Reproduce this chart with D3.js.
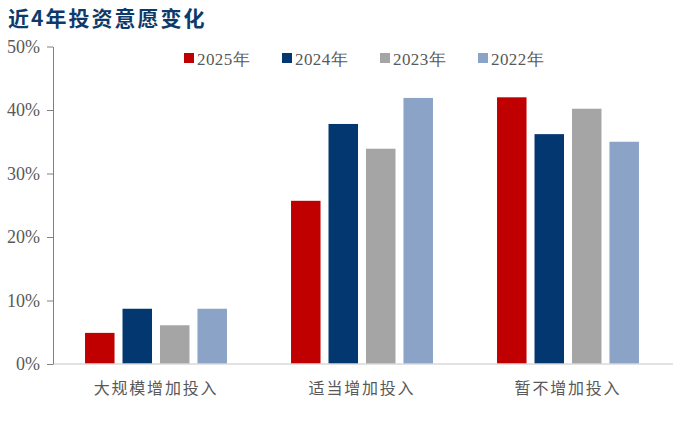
<!DOCTYPE html>
<html><head><meta charset="utf-8">
<script src="https://cdn.jsdelivr.net/npm/d3@7"></script>
<style>
body{margin:0;background:#fff}
.serif{font-family:"Liberation Serif","Times New Roman","DejaVu Serif",serif;}
.cjk{font-family:"Noto Sans CJK SC",sans-serif;}
</style>
</head><body>
<svg id="c" width="697" height="438"></svg>
<script>
const title = "近4年投资意愿变化";
const categories = ["大规模增加投入", "适当增加投入", "暂不增加投入"];
const seriesNames = ["2025年", "2024年", "2023年", "2022年"];
const colors = ["#C00000", "#03376F", "#A5A5A5", "#8AA3C6"];
const s2025 = [4.9, 25.7, 42.0];
const s2024 = [8.7, 37.8, 36.2];
const s2023 = [6.1, 33.9, 40.2];
const s2022 = [8.7, 41.9, 35.0];
const yTicks = [0, 10, 20, 30, 40, 50];

const series = [s2025, s2024, s2023, s2022];
const svg = d3.select("#c");
const mLeft = 53, mRight = 671, mTop = 46.5, mBottom = 364;

const x0 = d3.scaleBand().domain(categories).range([mLeft, mRight]).paddingInner(0.311).paddingOuter(0.1555);
const x1 = d3.scaleBand().domain(seriesNames).range([0, x0.bandwidth()]).paddingInner(0.213);
const y = d3.scaleLinear().domain([0, 50]).range([mBottom, mTop]);

// title
svg.append("text").attr("class", "cjk").attr("x", 8).attr("y", 26).text(title)
  .attr("font-weight", "bold")
  .attr("font-size", 21).attr("fill", "#0E3A6B").attr("letter-spacing", 2);

// bars
categories.forEach((c, ci) => {
  seriesNames.forEach((s, si) => {
    const v = series[si][ci];
    svg.append("rect")
      .attr("x", x0(c) + x1(s)).attr("width", x1.bandwidth())
      .attr("y", y(v)).attr("height", y(0) - y(v))
      .attr("fill", colors[si]);
  });
});

// baseline
svg.append("line").attr("x1", mLeft).attr("x2", 673).attr("y1", mBottom).attr("y2", mBottom)
  .attr("stroke", "#D9D9D9").attr("stroke-width", 1.5);

// y axis
const yAxis = d3.axisLeft(y).tickValues(yTicks).tickFormat(d => d + "%").tickSize(6).tickSizeOuter(0).tickPadding(7);
const ga = svg.append("g").attr("transform", `translate(${mLeft},0)`).call(yAxis);
ga.attr("font-family", null);
ga.select(".domain").attr("stroke", "#808080");
ga.selectAll(".tick line").attr("stroke", "#808080");
ga.selectAll(".tick text").attr("class", "serif").attr("font-size", 18).attr("fill", "#595959");

// x labels
const gx = svg.append("g").attr("transform", `translate(0,${mBottom})`)
  .call(d3.axisBottom(x0).tickSize(0).tickPadding(20));
gx.attr("font-family", null);
gx.select(".domain").remove();
gx.selectAll(".tick text").attr("class", "cjk").attr("font-size", 16)
  .attr("fill", "#595959").attr("letter-spacing", 1.8).attr("dy", "0.6em");

// legend
const lg = svg.append("g");
seriesNames.forEach((s, i) => {
  const lx = 184 + i * 98;
  lg.append("rect").attr("x", lx).attr("y", 53).attr("width", 10).attr("height", 10).attr("fill", colors[i]);
  lg.append("text").attr("class", "serif").attr("x", lx + 13).attr("y", 64.5).text(s)
    .attr("font-size", 17).attr("fill", "#595959").attr("letter-spacing", 0.4);
});
</script>
</body></html>
